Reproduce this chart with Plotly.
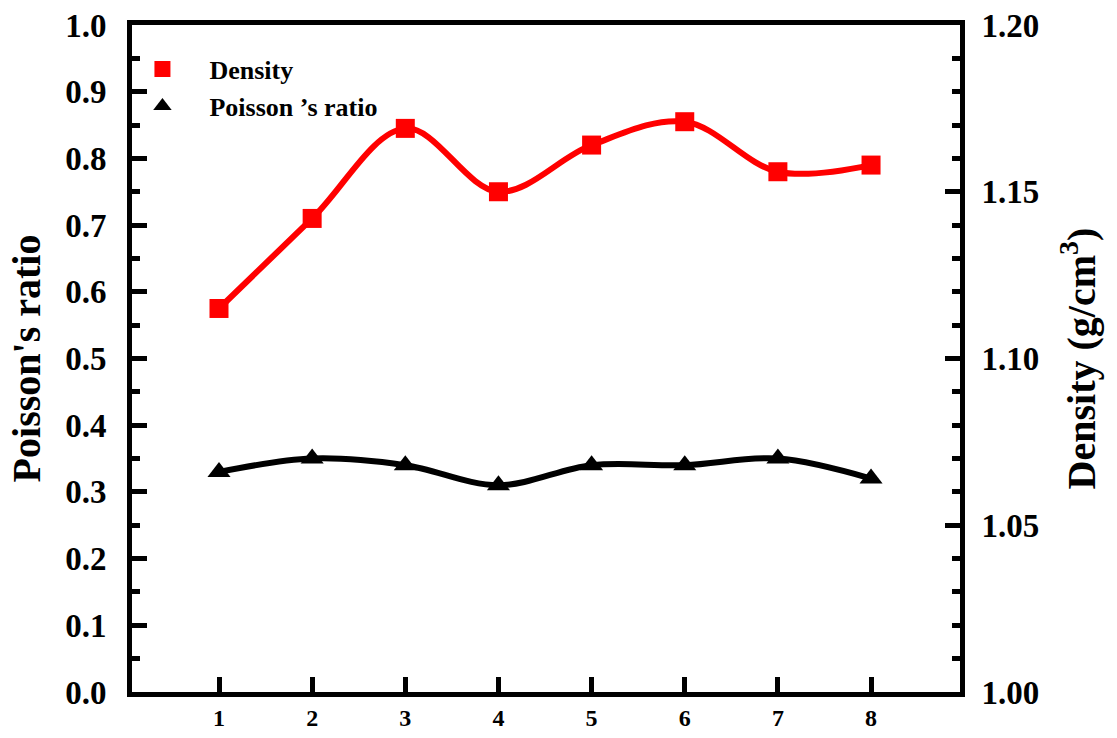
import plotly.graph_objects as go

# Sample index along the x axis
samples = [1, 2, 3, 4, 5, 6, 7, 8]
# Density (g/cm3), right axis
density = [1.115, 1.142, 1.169, 1.150, 1.164, 1.171, 1.156, 1.158]
# Poisson's ratio, left axis
poisson = [0.33, 0.35, 0.34, 0.31, 0.34, 0.34, 0.35, 0.32]

x_ticks = [1, 2, 3, 4, 5, 6, 7, 8]
left_ticks = [0.0, 0.1, 0.2, 0.3, 0.4, 0.5, 0.6, 0.7, 0.8, 0.9, 1.0]
right_ticks = [1.00, 1.05, 1.10, 1.15, 1.20]

FONT = "Liberation Serif, Times New Roman, serif"
RED = "#ff0000"
BLACK = "#000000"

fig = go.Figure()

# Density curve (right axis)
fig.add_trace(go.Scatter(
    x=samples, y=density, yaxis="y2", mode="lines+markers",
    line=dict(color=RED, width=6, shape="spline", smoothing=1.0),
    marker=dict(symbol="square", size=19, color=RED),
    showlegend=False,
))
# Poisson's ratio curve (left axis)
fig.add_trace(go.Scatter(
    x=samples, y=poisson, yaxis="y", mode="lines+markers",
    line=dict(color=BLACK, width=6, shape="spline", smoothing=1.0),
    marker=dict(symbol="triangle-up", size=20, color=BLACK),
    showlegend=False,
))

# Legend entries show the symbols only
fig.add_trace(go.Scatter(
    x=[None], y=[None], mode="markers", name="Density",
    marker=dict(symbol="square", size=19, color=RED),
))
fig.add_trace(go.Scatter(
    x=[None], y=[None], mode="markers", name="Poisson \u2019s ratio",
    marker=dict(symbol="triangle-up", size=20, color=BLACK),
))

axis_common = dict(
    showline=True, linecolor=BLACK, linewidth=5,
    ticks="inside", tickcolor=BLACK, tickwidth=5, ticklen=15,
    showgrid=False, zeroline=False, automargin=False,
)

fig.update_layout(
    width=1117, height=738,
    margin=dict(l=132, r=157, t=25, b=46),
    paper_bgcolor="white", plot_bgcolor="white",
    font=dict(family=FONT, color=BLACK, weight="bold"),
    xaxis=dict(
        **axis_common, range=[0.066, 8.955], tickvals=x_ticks,
        ticktext=[str(v) for v in x_ticks], mirror=True,
        tickfont=dict(size=24, family=FONT, weight="bold"),
    ),
    yaxis=dict(
        **axis_common, range=[0, 1.0], tickvals=left_ticks,
        ticktext=[f"{v:.1f}" for v in left_ticks],
        tickfont=dict(size=33, family=FONT, weight="bold"),
        minor=dict(ticks="inside", ticklen=8, tickwidth=5, tickcolor=BLACK, dtick=0.05),
        ticklabelstandoff=14,
        title=dict(text="Poisson's ratio", font=dict(size=40, family=FONT, weight="bold"),
                   standoff=14),
    ),
    yaxis2=dict(
        **axis_common, range=[1.0, 1.2], overlaying="y", side="right",
        tickvals=right_ticks, ticktext=[f"{v:.2f}" for v in right_ticks],
        tickfont=dict(size=33, family=FONT, weight="bold"),
        minor=dict(ticks="inside", ticklen=8, tickwidth=5, tickcolor=BLACK, dtick=0.01),
        ticklabelstandoff=10,
        title=dict(text="Density (g/cm<sup>3</sup>)", font=dict(size=40, family=FONT, weight="bold"),
                   standoff=30),
    ),
    legend=dict(
        x=-0.02, y=0.969, xanchor="left", yanchor="top",
        bgcolor="rgba(0,0,0,0)", itemwidth=84,
        font=dict(size=26, family=FONT, weight="bold"),
    ),
)

fig.write_html("out.html")
